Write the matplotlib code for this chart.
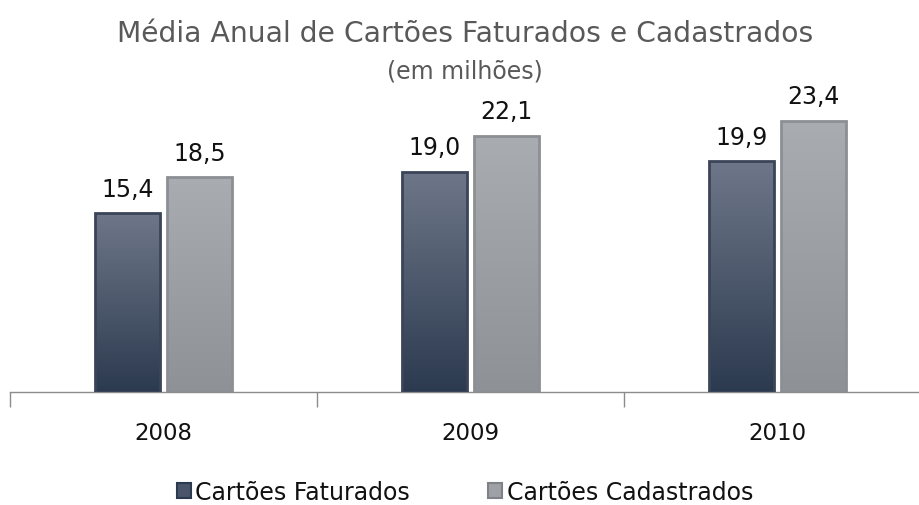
import numpy as np
import matplotlib
matplotlib.use("Agg")
import matplotlib.pyplot as plt
from matplotlib.patches import Patch
from matplotlib.colors import LinearSegmentedColormap

years = ["2008", "2009", "2010"]
faturados = [15.4, 19.0, 19.9]
cadastrados = [18.5, 22.1, 23.4]
labels_fat = ["15,4", "19,0", "19,9"]
labels_cad = ["18,5", "22,1", "23,4"]

W, H = 919, 506
fig = plt.figure(figsize=(W / 100, H / 100), dpi=100)
plt.rcParams['font.family'] = ['DejaVu Sans']

# axes: left at x=10, bottom at y=393, category width ~307 px
ax_left = 10 / W
ax_bottom = 1 - 393 / H
ax_width = 921 / W
ax_height = 290 / H
ax = fig.add_axes([ax_left, ax_bottom, ax_width, ax_height])
ax.set_xlim(0, 3)
ax.set_ylim(0, 25)

x = np.arange(3) + 0.5
bw = 0.21
gap = 0.012

dark_cmap = LinearSegmentedColormap.from_list("d", ["#2c3a4f", "#6e7789"])
light_cmap = LinearSegmentedColormap.from_list("l", ["#8e9296", "#a9adb2"])

bars1 = ax.bar(x - bw / 2 - gap, faturados, bw, facecolor="none",
               edgecolor="#3b4557", linewidth=2.0, zorder=3)
bars2 = ax.bar(x + bw / 2 + gap, cadastrados, bw, facecolor="none",
               edgecolor="#8c8f93", linewidth=2.0, zorder=3)

grad = np.linspace(0, 1, 256).reshape(-1, 1)
for bars, cmap in ((bars1, dark_cmap), (bars2, light_cmap)):
    for b in bars:
        x0, y0 = b.get_x(), b.get_y()
        w, h = b.get_width(), b.get_height()
        im = ax.imshow(grad, cmap=cmap, extent=(x0, x0 + w, y0, y0 + h),
                       origin="lower", aspect="auto", zorder=2)
        im.set_clip_path(b)

for bars, labs in ((bars1, labels_fat), (bars2, labels_cad)):
    for b, t in zip(bars, labs):
        ax.text(b.get_x() + b.get_width() / 2, b.get_height() + 1.05, t,
                ha="center", va="bottom", fontsize=17, color="#111111")

for s in ["top", "right", "left"]:
    ax.spines[s].set_visible(False)
ax.spines["bottom"].set_color("#8c8c8c")
ax.spines["bottom"].set_linewidth(1.0)
ax.set_yticks([])
ax.set_xticks([0, 1, 2, 3])
ax.set_xticklabels([])
ax.set_xticks(x, minor=True)
ax.set_xticklabels(years, minor=True, fontsize=16.5, color="#111111")
ax.tick_params(axis="x", which="major", length=11, color="#8c8c8c", width=1)
ax.tick_params(axis="x", which="minor", length=0, pad=21)
ax.set_xlim(0, 3)
ax.set_ylim(0, 25)
ax.set_facecolor("none")

fig.text(465 / W, 1 - 34 / H, "Média Anual de Cartões Faturados e Cadastrados",
         ha="center", va="center", fontsize=20.3, color="#595959")
fig.text(465 / W, 1 - 71 / H, "(em milhões)",
         ha="center", va="center", fontsize=17, color="#595959")

handles = [Patch(facecolor="#4a556a", edgecolor="#2c3a4f", linewidth=1.5),
           Patch(facecolor="#9ea2a7", edgecolor="#7e8286", linewidth=1.5)]
fig.legend(handles, ["Cartões Faturados", "Cartões Cadastrados"],
           loc="center", bbox_to_anchor=(465 / W, 1 - 493 / H), ncol=2,
           frameon=False, fontsize=17, handlelength=0.6, handleheight=0.6,
           handletextpad=0.2, columnspacing=3.3, labelcolor="#111111")

fig.savefig("out.png", dpi=100)
